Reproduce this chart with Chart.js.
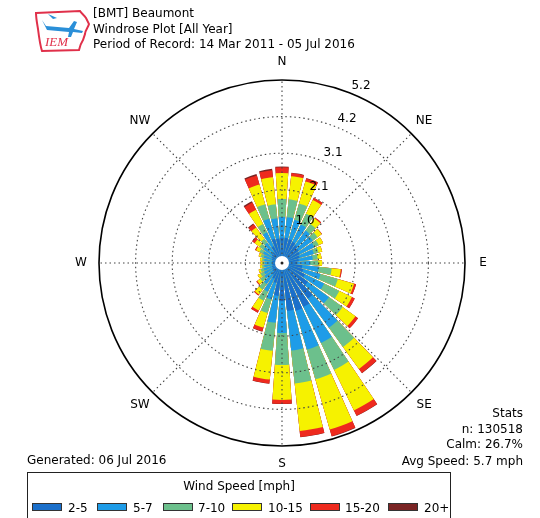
<!DOCTYPE html>
<html>
<head>
<meta charset="utf-8">
<script src="https://cdn.jsdelivr.net/npm/chart.js@4.4.0/dist/chart.umd.min.js"></script>
<style>
body { margin: 0; background: #fff; }
#wrap { position: relative; width: 540px; height: 518px; overflow: hidden; font-family: "DejaVu Sans", sans-serif; color: #000; }
#rose { position: absolute; left: 0; top: 0; }
.t { position: absolute; font-size: 12px; line-height: 14px; white-space: nowrap; }
.r { text-align: right; }
#legend { position: absolute; left: 27px; top: 472px; width: 424px; height: 60px; border: 1px solid #222; box-sizing: border-box; }
#legend .title { position: absolute; left: 0; width: 100%; top: 6px; text-align: center; font-size: 12px; line-height: 14px; }
.sw { position: absolute; top: 30px; width: 30px; height: 8px; border: 1px solid #333; box-sizing: border-box; }
.lb { position: absolute; top: 28px; font-size: 12px; line-height: 14px; }
</style>
</head>
<body>
<div id="wrap">
  <canvas id="rose" width="540" height="518"></canvas>

  <svg style="position:absolute;left:33px;top:4px" width="60" height="52" viewBox="0 0 60 52">
    <path d="M3,9 L47,7 C49,10 51,11 53,14 L56,20 C55,24 52,26 52,30 L50,36 C48,39 47,42 46,46 L9,47 C7,41 6,33 5,25 C4,19 3,14 3,9 Z" fill="none" stroke="#e0304a" stroke-width="2"/>
    <path d="M9,16 L13,22 L36,24 L41,17 L44,18 L41,25 L50,27 L49,29 L40,28 L38,33 L35,33 L36,28 L14,26 Z" fill="#2a8fd8"/>
    <path d="M15,10 L24,14 L20,15 Z" fill="#2a8fd8"/>
    <text x="12" y="42" font-family="Liberation Serif, serif" font-style="italic" font-size="13" fill="#e0304a">IEM</text>
  </svg>

  <div class="t" style="left:93px;top:6px">[BMT] Beaumont</div>
  <div class="t" style="left:93px;top:22px">Windrose Plot [All Year]</div>
  <div class="t" style="left:93px;top:37px">Period of Record: 14 Mar 2011 - 05 Jul 2016</div>

  <div class="t r" style="right:17px;top:406px">Stats</div>
  <div class="t r" style="right:17px;top:422px">n: 130518</div>
  <div class="t r" style="right:17px;top:437px">Calm: 26.7%</div>
  <div class="t r" style="right:17px;top:454px">Avg Speed: 5.7 mph</div>
  <div class="t" style="left:27px;top:453px">Generated: 06 Jul 2016</div>

  <div id="legend"><div class="title">Wind Speed [mph]</div></div>
</div>

<script>
// wind directions, degrees from north (10 degree bins)
var directions = [0, 10, 20, 30, 40, 50, 60, 70, 80, 90, 100, 110, 120, 130, 140, 150, 160, 170,
                  180, 190, 200, 210, 220, 230, 240, 250, 260, 270, 280, 290, 300, 310, 320, 330, 340, 350];
var speedBins = ["2-5", "5-7", "7-10", "10-15", "15-20", "20+"];
var binColors = ["#1b6fca", "#1e9ce8", "#6cc08c", "#f6f200", "#ee2a1e", "#7a2424"];

// frequency (%) per direction for each speed bin
var s2_5 = [0.72, 0.72, 0.70, 0.67, 0.63, 0.59, 0.56, 0.52, 0.48, 0.44, 0.58, 0.63, 0.73, 0.91, 1.25, 1.39, 1.41, 1.37,
            1.09, 0.94, 0.59, 0.50, 0.41, 0.34, 0.31, 0.30, 0.28, 0.27, 0.28, 0.30, 0.33, 0.36, 0.39, 0.53, 0.72, 0.70];
var s5_7 = [0.59, 0.59, 0.58, 0.55, 0.51, 0.49, 0.46, 0.42, 0.40, 0.36, 0.47, 0.51, 0.60, 0.74, 1.02, 1.14, 1.15, 1.13,
            0.90, 0.77, 0.49, 0.41, 0.33, 0.28, 0.26, 0.24, 0.23, 0.22, 0.23, 0.24, 0.27, 0.29, 0.32, 0.44, 0.59, 0.58];
var s7_10 = [0.51, 0.51, 0.48, 0.34, 0.23, 0.17, 0.14, 0.14, 0.14, 0.23, 0.37, 0.51, 0.48, 0.48, 0.68, 0.85, 0.88, 0.94,
             0.91, 0.80, 0.40, 0.28, 0.20, 0.14, 0.11, 0.09, 0.06, 0.06, 0.06, 0.09, 0.11, 0.14, 0.14, 0.26, 0.43, 0.40];
var s10_15 = [0.74, 0.66, 0.65, 0.43, 0.20, 0.14, 0.14, 0.11, 0.11, 0.11, 0.26, 0.48, 0.40, 0.45, 0.77, 1.28, 1.48, 1.36,
              0.99, 0.82, 0.43, 0.31, 0.17, 0.11, 0.09, 0.06, 0.06, 0.06, 0.06, 0.06, 0.11, 0.17, 0.40, 0.45, 0.58, 0.77];
var s15_20 = [0.16, 0.09, 0.09, 0.07, 0.03, 0.01, 0, 0, 0, 0, 0.03, 0.06, 0.09, 0.09, 0.14, 0.17, 0.20, 0.17,
              0.11, 0.11, 0.11, 0.07, 0.03, 0.03, 0, 0, 0, 0, 0, 0, 0.03, 0.09, 0.11, 0.23, 0.27, 0.20];
var s20p = [0.02, 0.01, 0.01, 0, 0, 0, 0, 0, 0, 0, 0, 0, 0, 0, 0.01, 0.01, 0.01, 0.01,
            0.01, 0.01, 0.01, 0, 0, 0, 0, 0, 0, 0, 0, 0, 0, 0, 0.03, 0.04, 0.04, 0.04];

var tickValues = [1.04, 2.08, 3.12, 4.16, 5.2];
var tickLabels = ["1.0", "2.1", "3.1", "4.2", "5.2"];
var compass = ["N", "NE", "E", "SE", "S", "SW", "W", "NW"];

var series = [s2_5, s5_7, s7_10, s10_15, s15_20, s20p];
var barAngle = 8, gapAngle = 2; // 80% opening per 10 degree sector
var dots = [1.5, 3];

// polarArea does not stack, so draw cumulative totals; bar/gap slots alternate
var labels = [];
directions.forEach(function (d) { labels.push(d + "°", ""); });
var running = directions.map(function () { return 0; });
var datasets = series.map(function (s, k) {
    var data = [];
    s.forEach(function (v, j) {
        running[j] += v;
        data.push(+running[j].toFixed(3), 0);
    });
    return {
        label: speedBins[k],
        data: data,
        backgroundColor: binColors[k],
        borderWidth: 0,
        angle: function (ctx) { return ctx.dataIndex % 2 === 0 ? barAngle : gapAngle; }
    };
});

var roseDecor = {
    id: 'roseDecor',
    afterDatasetsDraw: function (chart) {
        var sc = chart.scales.r;
        var ctx = chart.ctx;
        var cx = sc.xCenter, cy = sc.yCenter, R = sc.drawingArea;
        ctx.save();
        // direction lines
        ctx.strokeStyle = '#444';
        ctx.lineWidth = 1.1;
        ctx.setLineDash(dots);
        for (var i = 0; i < 8; i++) {
            var a = i * Math.PI / 4;
            ctx.beginPath();
            ctx.moveTo(cx, cy);
            ctx.lineTo(cx + R * Math.sin(a), cy - R * Math.cos(a));
            ctx.stroke();
        }
        ctx.setLineDash([]);
        // calm hole
        ctx.fillStyle = '#fff';
        ctx.beginPath();
        ctx.arc(cx, cy, 7, 0, Math.PI * 2);
        ctx.fill();
        ctx.fillStyle = '#222';
        ctx.beginPath();
        ctx.arc(cx, cy, 1.5, 0, Math.PI * 2);
        ctx.fill();
        // labels
        ctx.font = '12px "DejaVu Sans", sans-serif';
        ctx.textAlign = 'center';
        ctx.textBaseline = 'middle';
        ctx.fillStyle = '#000';
        compass.forEach(function (c, i) {
            var a = i * Math.PI / 4;
            ctx.fillText(c, cx + (R + 18) * Math.sin(a), cy - (R + 18) * Math.cos(a));
        });
        var ta = 22.5 * Math.PI / 180;
        tickValues.forEach(function (v, i) {
            var d = sc.getDistanceFromCenterForValue(v);
            ctx.fillText(tickLabels[i], cx + d * Math.sin(ta) + 9, cy - d * Math.cos(ta) - 8.5);
        });
        ctx.restore();
    }
};

new Chart(document.getElementById("rose").getContext("2d"), {
    type: 'polarArea',
    data: { labels: labels, datasets: datasets },
    options: {
        responsive: false,
        animation: false,
        layout: { padding: { left: 99, right: 75, top: 80, bottom: 72 } },
        plugins: { legend: { display: false }, tooltip: { enabled: false } },
        scales: {
            r: {
                min: 0,
                max: 5.2,
                startAngle: -barAngle / 2,
                afterBuildTicks: function (scale) {
                    scale.ticks = [0].concat(tickValues).map(function (v) { return { value: v }; });
                },
                ticks: { display: false },
                pointLabels: { display: false },
                angleLines: { display: false },
                grid: {
                    z: 1,
                    circular: true,
                    color: function (ctx) { return ctx.index === tickValues.length ? '#000' : '#444'; },
                    lineWidth: function (ctx) { return ctx.index === tickValues.length ? 1.6 : 1.1; }
                },
                border: {
                    dash: function (ctx) { return ctx.index === tickValues.length ? [] : dots; }
                }
            }
        }
    },
    plugins: [roseDecor]
});

// legend
var lg = document.getElementById("legend");
var swX = [4, 69, 135, 204, 282, 360];
var lbX = [40, 105, 170, 240, 317, 396];
speedBins.forEach(function (b, k) {
    var sw = document.createElement("div");
    sw.className = "sw";
    sw.style.left = swX[k] + "px";
    sw.style.background = binColors[k];
    lg.appendChild(sw);
    var lb = document.createElement("div");
    lb.className = "lb";
    lb.style.left = lbX[k] + "px";
    lb.textContent = b;
    lg.appendChild(lb);
});
</script>
</body>
</html>
